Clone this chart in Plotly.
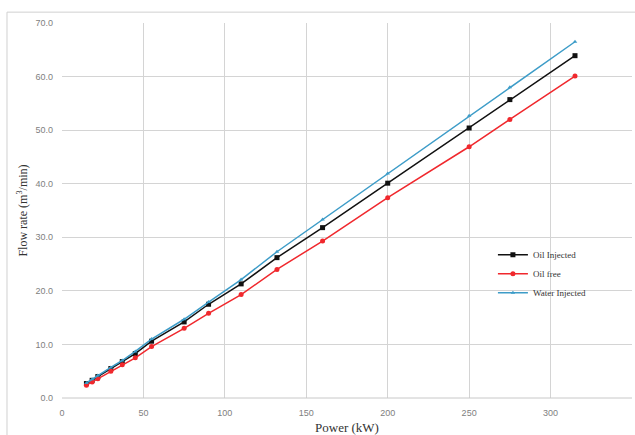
import plotly.graph_objects as go

power_kw = [15, 18.5, 22, 30, 37, 45, 55, 75, 90, 110, 132, 160, 200, 250, 275, 315]
oil_injected = [2.7, 3.3, 4.0, 5.5, 6.8, 8.3, 10.6, 14.2, 17.5, 21.3, 26.2, 31.8, 40.1, 50.4, 55.7, 63.9]
oil_free = [2.4, 3.0, 3.6, 5.0, 6.2, 7.5, 9.6, 13.0, 15.8, 19.3, 24.0, 29.3, 37.4, 46.9, 52.0, 60.1]
water_injected = [2.8, 3.5, 4.2, 5.7, 7.0, 8.7, 11.0, 14.7, 17.9, 22.1, 27.3, 33.3, 41.9, 52.7, 58.0, 66.5]

series = [
    ("Oil Injected", oil_injected, "#111111", "square", 5),
    ("Oil free", oil_free, "#f0282d", "circle", 5),
    ("Water Injected", water_injected, "#3d9cc8", "triangle-up", 4),
]

fig = go.Figure()
for name, vals, color, sym, ms in series:
    fig.add_trace(go.Scatter(
        x=power_kw, y=vals, name=name, mode="lines+markers",
        line=dict(color=color, width=1.5),
        marker=dict(color=color, symbol=sym, size=ms),
    ))

tickfont = dict(family="Liberation Sans", size=9, color="#808080")
fig.update_layout(
    width=635, height=435,
    margin=dict(l=62, r=3, t=23, b=37, autoexpand=False),
    paper_bgcolor="white", plot_bgcolor="white",
    showlegend=True,
    legend=dict(
        x=0.756, y=0.421, xanchor="left", yanchor="top",
        bgcolor="rgba(255,255,255,0)",
        font=dict(family="Liberation Serif", size=9, color="#333333"),
        itemwidth=30, tracegroupgap=0,
    ),
    xaxis=dict(
        range=[0, 350], tick0=0, dtick=50, showgrid=True,
        gridcolor="#d4d4d4", gridwidth=1, zeroline=False,
        showline=False, ticks="", automargin=False, ticklabelstandoff=8,
        tickfont=tickfont,
        title=dict(text="Power (kW)", standoff=7,
                   font=dict(family="Liberation Serif", size=13, color="#333333")),
    ),
    yaxis=dict(
        range=[0, 70], tick0=0, dtick=10, tickformat=".1f", showgrid=True,
        gridcolor="#d4d4d4", gridwidth=1, zeroline=False,
        showline=False, ticks="", automargin=False, ticklabelstandoff=8,
        tickfont=tickfont,
        title=dict(text="Flow rate (m<sup>3</sup>/min)", standoff=5,
                   font=dict(family="Liberation Serif", size=12, color="#333333")),
    ),
    shapes=[
        dict(type="rect", xref="paper", yref="paper",
             x0=-0.0965, x1=1.05, y0=-0.2, y1=1.029,
             line=dict(color="#d0d0d0", width=1), fillcolor="rgba(0,0,0,0)", layer="below"),
        dict(type="line", xref="paper", yref="paper",
             x0=0, x1=1, y0=0, y1=0, line=dict(color="#c8c8c8", width=1)),
    ],
)

fig.write_html("out.html", config={"displayModeBar": False},
               post_script="document.body.style.margin='0';")
